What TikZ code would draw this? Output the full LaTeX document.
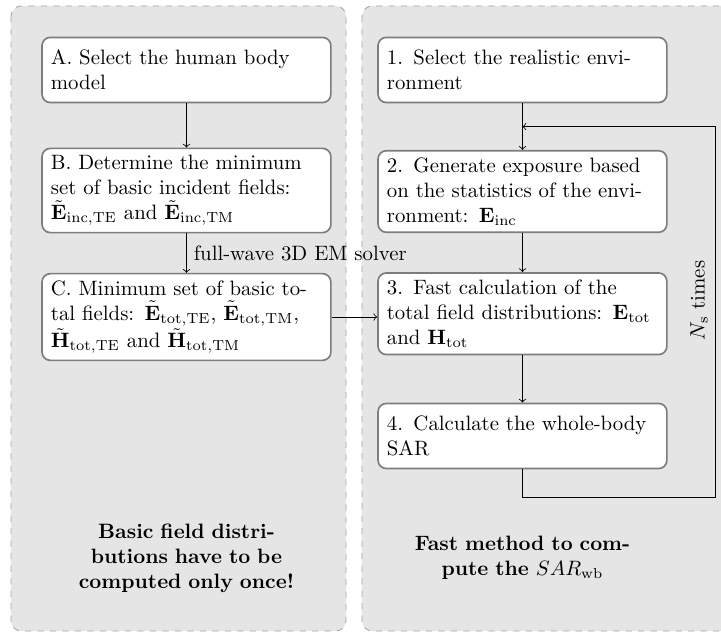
\documentclass[tikz,border=0pt]{standalone}
\definecolor{panelgray}{RGB}{229,229,229}
\definecolor{panelborder}{RGB}{165,165,165}
\definecolor{boxborder}{RGB}{125,125,125}
\usepackage{amsmath,amssymb}
\usetikzlibrary{arrows,positioning,calc}

\begin{document}
\begin{tikzpicture}[
    panel/.style={draw=panelborder, dashed, fill=panelgray, rounded corners=5pt},
    box/.style={rectangle, draw=boxborder, thick, fill=white, text width=4.58cm,
                minimum width=4.88cm, minimum height=1.1cm, align=left, rounded corners=4pt},
    note/.style={text width=4cm, align=center, font=\bfseries},
    arrow/.style={->}]

    \useasboundingbox (0,0) rectangle (12.18,-10.676);
    \clip (0,0) rectangle (12.18,-10.676);

    % two background panels
    \draw[panel] (0.186,-0.1) rectangle (5.845,-10.66);
    \draw[panel] (6.115,-0.1) rectangle (12.8,-10.66);

    % left column: computed once
    \node[box] (a) at (3.15,-1.182) {A. Select the human body model};
    \node[box] (b) at (3.15,-3.218) {B. Determine the minimum set of basic incident fields:
        $\tilde{\mathbf{E}}_{\mathrm{inc,TE}}$ and $\tilde{\mathbf{E}}_{\mathrm{inc,TM}}$};
    \node[box] (c) at (3.15,-5.355) {C. Minimum set of basic total fields:
        $\tilde{\mathbf{E}}_{\mathrm{tot,TE}}$, $\tilde{\mathbf{E}}_{\mathrm{tot,TM}}$,
        $\tilde{\mathbf{H}}_{\mathrm{tot,TE}}$ and $\tilde{\mathbf{H}}_{\mathrm{tot,TM}}$};

    % right column: fast method
    \node[box] (s1) at (8.826,-1.182) {1. Select the realistic environment};
    \node[box] (s2) at (8.826,-3.235) {2. Generate exposure based on the statistics of the
        environment: $\mathbf{E}_{\mathrm{inc}}$};
    \node[box] (s3) at (8.826,-5.30) {3. Fast calculation of the total field distributions:
        $\mathbf{E}_{\mathrm{tot}}$ and $\mathbf{H}_{\mathrm{tot}}$};
    \node[box] (s4) at (8.826,-7.365) {4. Calculate the whole-body SAR};

    \node[note] (once) at (3.15,-9.426) {Basic field distributions have to be computed only once!};
    \node[note] (fast) at (8.826,-9.426) {Fast method to com-\\pute the $SAR_{\mathrm{wb}}$};

    \draw[arrow] (a) -- (b);
    \draw[arrow] (b) -- node[right] {full-wave 3D EM solver} (c);
    \draw[arrow] (c.east) -- (c.east -| s3.west);
    \draw[arrow] (s1) -- (s2);
    \draw[arrow] (s2) -- (s3);
    \draw[arrow] (s3) -- (s4);

    % repetition loop
    \coordinate (join) at ($(s1.south)!0.5!(s2.north)$);
    \coordinate (loopbr) at (12.078,-8.395);
    \coordinate (looptr) at (loopbr |- join);
    \draw[arrow] (s4.south) |- (loopbr) -- node[pos=0.53, above, sloped] {$N_{\mathrm{s}}$ times} (looptr) -- (join);
\end{tikzpicture}
\end{document}
